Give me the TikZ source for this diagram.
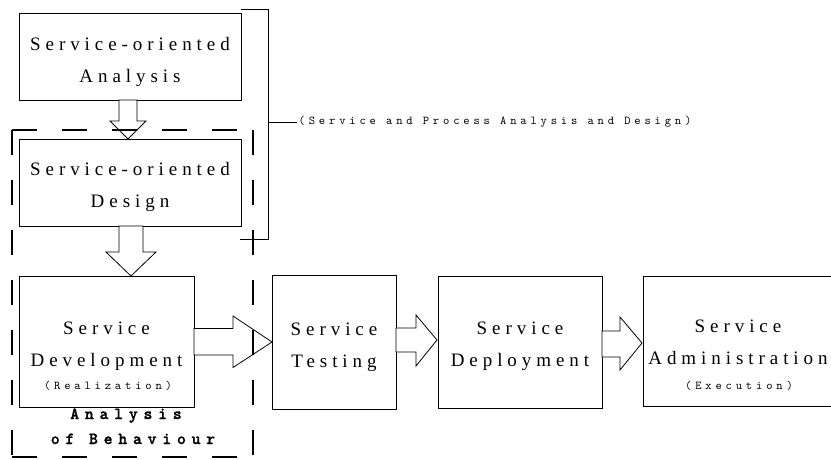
\documentclass[tikz,border=0pt]{standalone}
\usepackage{fontspec}
\setmainfont{Liberation Serif}[LetterSpace=26]
\newfontfamily\notefont{lmmono10-regular.otf}[LetterSpace=32]
\newfontfamily\behavfont{lmmonolt10-bold.otf}[LetterSpace=33.7, FakeBold=1.2]
\usetikzlibrary{calc}

\tikzset{
  stage/.style={draw=black, line width=0.8pt, inner sep=0pt, outer sep=0pt},
  stagetext/.style={align=center, inner sep=0pt, font=\fontsize{19}{32}\selectfont},
  note/.style={inner sep=0pt, font=\notefont\fontsize{12}{14}\selectfont},
  behav/.style={inner sep=0pt, font=\behavfont\fontsize{17}{19}\selectfont},
  blockarrow/.style={draw=black, line width=0.8pt, fill=white, line join=miter},
  groupline/.style={draw=black, line width=2pt, dash pattern=on 25pt off 25pt},
  bracket/.style={draw=black, line width=0.8pt}
}

\begin{document}
\begin{tikzpicture}[x=1pt, y=-1pt]
\useasboundingbox (0,0) rectangle (831,459);
\clip (0,0) rectangle (831,459);
\fill[white] (0,0) rectangle (831,459);

% stage boxes
\node[stage, minimum width=222pt, minimum height=87pt]  (b1) at (130,56.5)  {};
\node[stage, minimum width=222pt, minimum height=87pt]  (b2) at (130,182.5) {};
\node[stage, minimum width=175pt, minimum height=131pt] (b3) at (106.5,341.5) {};
\node[stage, minimum width=124pt, minimum height=134pt] (b4) at (334,342) {};
\node[stage, minimum width=164pt, minimum height=132pt] (b5) at (520,342) {};
\node[stage, minimum width=190pt, minimum height=130pt] (b6) at (738,341) {};

% stage titles
\node[stagetext] (t1) at (130,61.5)    {Service-oriented\\Analysis};
\node[stagetext] (t2) at (130,186.5)   {Service-oriented\\Design};
\node[stagetext] (t3) at (106.5,346.5) {Service\\Development};
\node[stagetext] (t4) at (334,347.5)   {Service\\Testing};
\node[stagetext] (t5) at (520,346.5)   {Service\\Deployment};
\node[stagetext] (t6) at (738,342.5)   {Service\\Administration};
\node[note, anchor=base] (r3) at (108,389) {(Realization)};
\node[note, anchor=base] (e6) at (739,389) {(Execution)};
\node[behav, anchor=base] (ab1) at (126,419) {Analysis};
\node[behav, anchor=base] (ab2) at (133,444) {of Behaviour};

% block arrows between stages
\draw[blockarrow] ($(b1.south)+(-11,0)$) -- ++(0,21) -- ++(-9,0)
  -- ($(b2.north)+(-2,0)$) -- ++(18,-18) -- ++(-9,0) -- ++(0,-21) -- cycle;
\draw[blockarrow] ($(b2.south)+(-11,0)$) -- ++(0,26) -- ++(-13,0)
  -- ($(b3.north)+(24.5,0)$) -- ++(25,-24) -- ++(-13,0) -- ++(0,-26) -- cycle;
\draw[blockarrow] ($(b3.east)+(0,-13)$) -- ++(39,0) -- ++(0,-12.5)
  -- (b4.west) -- ++(-39,25.5) -- ++(0,-12.5) -- ++(-39,0) -- cycle;
\draw[blockarrow] ($(b4.east)+(0,-14)$) -- ++(20,0) -- ++(0,-13)
  -- ($(b5.west)+(-1,-2)$) -- ++(-21,26) -- ++(0,-14) -- ++(-20,0) -- cycle;
\draw[blockarrow] ($(b5.east)+(0,-11)$) -- ++(18,0) -- ++(0,-14)
  -- ($(b6.west)+(-1,2)$) -- ++(-22,27) -- ++(0,-13) -- ++(-18,0) -- cycle;

% bracket grouping analysis and design
\coordinate (brT)  at (241,9);
\coordinate (brTR) at (268,9);
\coordinate (brBR) at (268,239);
\coordinate (brB)  at (240,239);
\coordinate (brM)  at (268,122);
\draw[bracket] (brT) -- (brTR) -- (brBR) -- (brB);
\node[note, anchor=west, inner xsep=1.5pt] (lbl) at (297,122)
  {(Service and Process Analysis and Design)};
\draw[bracket] (brM) -- (lbl.west);

% dashed group around design and development
\coordinate (gTL) at (12,130);
\coordinate (gBR) at (253,457);
\draw[groupline] (gTL) -- (gTL -| gBR);
\draw[groupline] (gTL) -- (gTL |- gBR);
\draw[groupline] (gTL -| gBR) -- (gBR);
\draw[groupline] (gTL |- gBR) -- (gBR);
\end{tikzpicture}
\end{document}
